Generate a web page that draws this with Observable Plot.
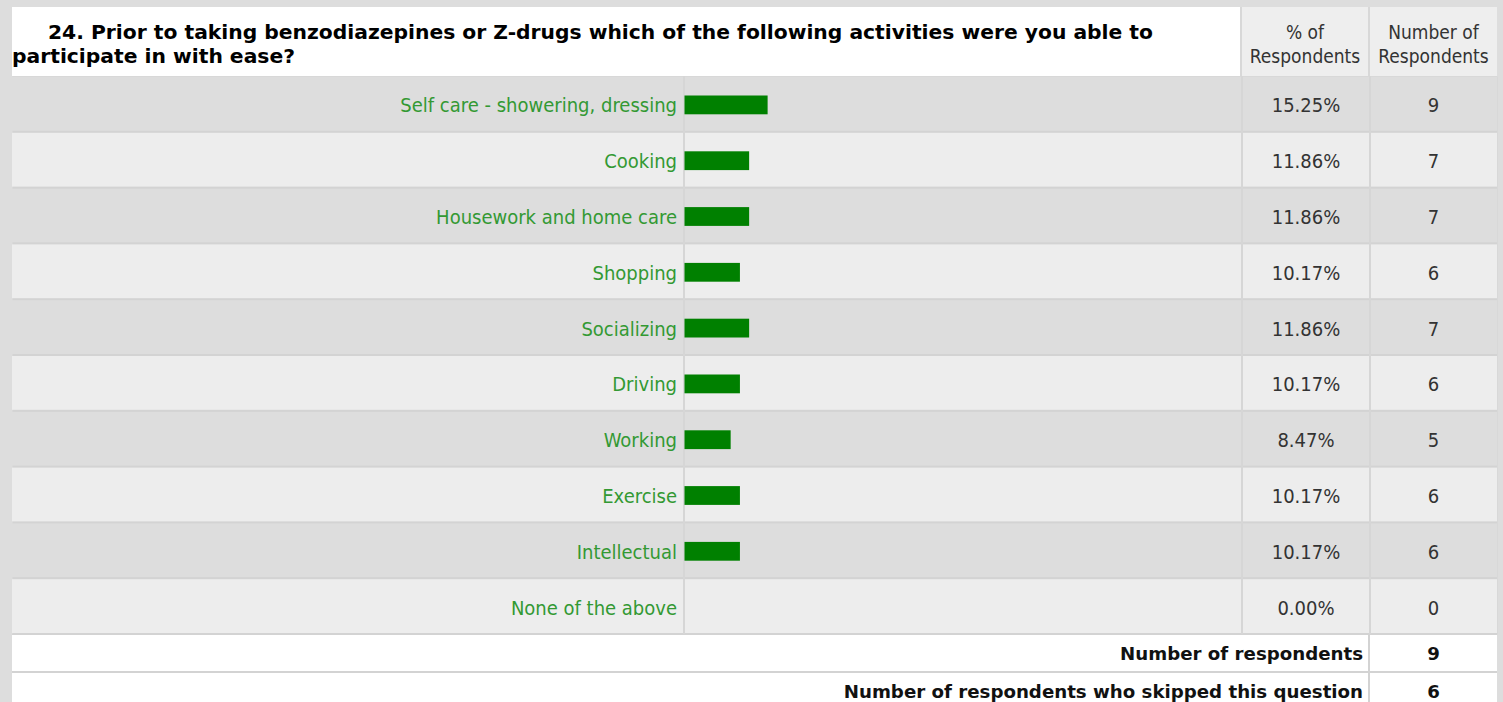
<!DOCTYPE html>
<html>
<head>
<meta charset="utf-8">
<script src="https://cdn.jsdelivr.net/npm/d3@7"></script>
<script src="https://cdn.jsdelivr.net/npm/@observablehq/plot@0.6"></script>
<style>
  html, body { margin: 0; padding: 0; }
  body { width: 1503px; height: 702px; overflow: hidden; background: #dddddd; position: relative; }
  .reg { font-family: "DejaVu Sans Condensed", "Liberation Sans", sans-serif; }
  #header { position: absolute; top: 7px; left: 12px; width: 1485px; height: 69px; display: flex; background: #d8d8d8; }
  #header .q { width: 1228px; background: #fff; font-family: "DejaVu Sans", sans-serif; font-weight: bold; font-size: 20.3px; line-height: 24px; color: #000; padding-top: 13px; box-sizing: border-box; text-indent: 36px; white-space: nowrap; }
  #header .h { background: #eeeeee; text-align: center; font-size: 19px; line-height: 24px; color: #333; padding-top: 13px; box-sizing: border-box; margin-left: 2px; }
  #chart { position: absolute; top: 76px; left: 0; }
  #footer { position: absolute; top: 634px; left: 12px; width: 1485px; background: #d3d3d3; padding-top: 1px; }
  #footer .row { display: flex; height: 36px; margin-bottom: 2px; }
  #footer .lab { width: 1356px; background: #fff; padding-right: 5px; box-sizing: border-box; font-family: "DejaVu Sans", sans-serif; font-weight: bold; font-size: 18.2px; color: #111; display: flex; align-items: center; justify-content: flex-end; }
  #footer .val { width: 127px; margin-left: 2px; background: #fff; font-family: "DejaVu Sans", sans-serif; font-weight: bold; font-size: 18.2px; color: #111; display: flex; align-items: center; justify-content: center; }
</style>
</head>
<body>
<div id="header">
  <div class="q" id="title"></div>
  <div class="h reg" style="width:126px" id="h1"></div>
  <div class="h reg" style="width:127px" id="h2"></div>
</div>
<div id="chart"></div>
<div id="footer">
  <div class="row"><div class="lab" id="f1l"></div><div class="val" id="f1v"></div></div>
  <div class="row"><div class="lab" id="f2l"></div><div class="val" id="f2v"></div></div>
</div>
<script>
// ---- data ----
const questionLines = [
  "24. Prior to taking benzodiazepines or Z-drugs which of the following activities were you able to",
  "participate in with ease?"
];
const headerPct = ["% of", "Respondents"];
const headerNum = ["Number of", "Respondents"];
const activities = [
  "Self care - showering, dressing",
  "Cooking",
  "Housework and home care",
  "Shopping",
  "Socializing",
  "Driving",
  "Working",
  "Exercise",
  "Intellectual",
  "None of the above"
];
const percents = [15.25, 11.86, 11.86, 10.17, 11.86, 10.17, 8.47, 10.17, 10.17, 0.00];
const counts = [9, 7, 7, 6, 7, 6, 5, 6, 6, 0];
const footerLabels = ["Number of respondents", "Number of respondents who skipped this question"];
const footerValues = [9, 6];

// ---- header / footer text ----
function lines(el, arr) {
  arr.forEach((t, i) => {
    if (i) el.appendChild(document.createElement("br"));
    el.appendChild(document.createTextNode(t));
  });
}
lines(document.getElementById("title"), questionLines);
lines(document.getElementById("h1"), headerPct);
lines(document.getElementById("h2"), headerNum);
document.getElementById("f1l").textContent = footerLabels[0];
document.getElementById("f2l").textContent = footerLabels[1];
document.getElementById("f1v").textContent = footerValues[0];
document.getElementById("f2v").textContent = footerValues[1];

// ---- chart ----
const rows = activities.map((a, i) => ({label: a, pct: percents[i], n: counts[i], i}));
const regFont = "'DejaVu Sans Condensed', 'Liberation Sans', sans-serif";
const sep = "#d3d3d3";

const chart = Plot.plot({
  width: 1503,
  height: 558,
  marginLeft: 12,
  marginRight: 6,
  marginTop: 0,
  marginBottom: 0,
  x: {domain: [0, 100], range: [684.5, 1229.5], axis: null},
  y: {type: "band", domain: activities, range: [0, 558], padding: 0, round: false, axis: null},
  color: {type: "identity"},
  style: {background: "transparent", overflow: "visible"},
  marks: [
    Plot.frame({fill: sep, stroke: "none"}),
    Plot.cell(rows, {y: "label", fill: d => d.i % 2 ? "#ededed" : "#dddddd", insetTop: 1, insetBottom: 1}),
    Plot.ruleX([0], {stroke: "#d6d6d6", strokeWidth: 2, dx: -1}),
    Plot.ruleX([0], {stroke: "#d6d6d6", strokeWidth: 2, dx: 557}),
    Plot.ruleX([0], {stroke: "#d6d6d6", strokeWidth: 2, dx: 685}),
    Plot.barX(rows, {x: "pct", y: "label", fill: "#008000", insetTop: 19.5, insetBottom: 17.5}),
    Plot.text(rows, {x: d => 0, y: "label", text: "label", textAnchor: "end", dx: -8, dy: 1.5, fill: "#339933", fontSize: 20, fontFamily: regFont}),
    Plot.text(rows, {y: "label", text: d => d.pct.toFixed(2) + "%", frameAnchor: "right", dx: -191.5, dy: 1.5, textAnchor: "middle", fill: "#333", fontSize: 20, fontFamily: regFont}),
    Plot.text(rows, {y: "label", text: d => String(d.n), frameAnchor: "right", dx: -64, dy: 1.5, textAnchor: "middle", fill: "#333", fontSize: 20, fontFamily: regFont})
  ]
});
document.getElementById("chart").appendChild(chart);
</script>
</body>
</html>
